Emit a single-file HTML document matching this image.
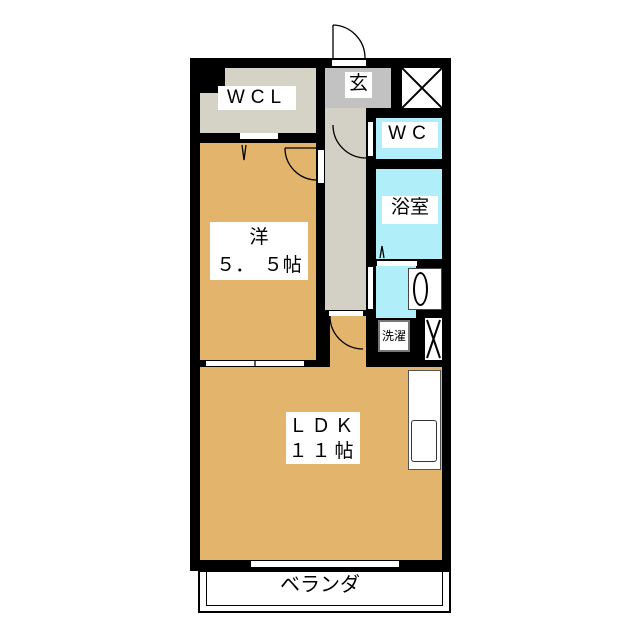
<!DOCTYPE html>
<html><head><meta charset="utf-8"><style>
body{margin:0;width:640px;height:640px;background:#fff;position:relative;overflow:hidden;font-family:"Liberation Sans","Noto Sans CJK JP",sans-serif}
div{position:absolute;box-sizing:border-box}
.lb{background:#fff;color:#000;text-align:center;font-size:19px;line-height:24px}
</style></head><body>
<div style="left:190px;top:58px;width:261px;height:513px;background:#000"></div>
<div style="left:225px;top:68px;width:91px;height:65px;background:#d5d2c6"></div>
<div style="left:200px;top:93px;width:116px;height:40px;background:#d5d2c6"></div>
<div style="left:200px;top:143px;width:116px;height:217px;background:#e2b46c"></div>
<div style="left:325px;top:68px;width:41px;height:242px;background:#d3d1c6"></div>
<div style="left:325px;top:68px;width:66px;height:40px;background:#c2c2c2"></div>
<div style="left:402px;top:68px;width:40px;height:40px;background:#fff"></div>
<svg style="position:absolute;left:402px;top:68px" width="40" height="40"><line x1="0" y1="0" x2="40" y2="40" stroke="#000" stroke-width="2"/><line x1="40" y1="0" x2="0" y2="40" stroke="#000" stroke-width="2"/></svg>
<div style="left:376px;top:118px;width:66px;height:41px;background:#b0eefa"></div>
<div style="left:376px;top:169px;width:66px;height:90px;background:#b0eefa"></div>
<div style="left:377px;top:261px;width:40px;height:5px;background:#fff"></div>
<div style="left:376px;top:266px;width:40px;height:52px;background:#b0eefa"></div>
<div style="left:408px;top:268px;width:34px;height:42px;background:#fff;border:1px solid #444"></div>
<div style="left:413px;top:272px;width:15px;height:34px;border:2px solid #000;border-radius:50%"></div>
<div style="left:378px;top:320px;width:32px;height:32px;background:#fff;border:2px solid #777;font-size:12px;line-height:28px;text-align:center">洗濯</div>
<div style="left:425px;top:318px;width:17px;height:42px;background:#fff"></div>
<svg style="position:absolute;left:425px;top:318px" width="17" height="42"><line x1="2" y1="2" x2="15" y2="40" stroke="#000" stroke-width="2"/><line x1="15" y1="2" x2="2" y2="40" stroke="#000" stroke-width="2"/></svg>
<div style="left:200px;top:367px;width:242px;height:193px;background:#e2b46c"></div>
<div style="left:330px;top:316px;width:36px;height:52px;background:#e2b46c"></div>
<div style="left:408px;top:370px;width:33px;height:100px;background:#fff;border:1px solid #555"></div>
<div style="left:411px;top:420px;width:26px;height:42px;border:1px solid #333;border-radius:3px"></div>
<div style="left:205px;top:360px;width:100px;height:7px;background:#fff;border:1px solid #000"></div>
<div style="left:240px;top:133px;width:38px;height:6px;background:#fff"></div>
<div style="left:318px;top:150px;width:6px;height:33px;background:#fff"></div>
<div style="left:332px;top:60px;width:34px;height:6px;background:#fff"></div>
<div style="left:368px;top:122px;width:5px;height:34px;background:#fff"></div>
<div style="left:368px;top:267px;width:5px;height:42px;background:#fff"></div>
<div style="left:329px;top:311px;width:34px;height:5px;background:#fff"></div>
<svg style="position:absolute;left:0;top:0" width="640" height="640" fill="none" stroke="#000" stroke-width="1.3">
<path d="M333 25 A33 33 0 0 1 365 58 M333 25 V60"/>
<path d="M333 125 A33 33 0 0 0 366 158"/>
<path d="M285 148 A32 32 0 0 0 317 180 M285 148 H317"/>
<path d="M330 316 A33 33 0 0 0 363 349"/>
<path d="M242 145 L244 160 L246 145"/>
<path d="M380 258 L382 246 L384 258"/>
<line x1="255" y1="360" x2="255" y2="367"/>
</svg>
<div style="left:250px;top:560px;width:150px;height:8px;background:#fff;border:1px solid #000"></div>
<div style="left:198px;top:570px;width:253px;height:43px;background:#fff;border:2px solid #000"></div>
<div style="left:206px;top:571px;width:237px;height:35px;border:1px solid #000;border-top:none"></div>
<div class="lb" style="left:255px;top:573px;width:130px;background:none;font-size:20px">ベランダ</div>
<div class="lb" style="left:218px;top:86px;width:78px;letter-spacing:6px">WCL</div>
<div class="lb" style="left:345px;top:72px;width:27px;height:26px">玄</div>
<div class="lb" style="left:382px;top:122px;width:56px;height:26px;letter-spacing:6px">WC</div>
<div class="lb" style="left:382px;top:196px;width:56px;height:28px">浴室</div>
<div class="lb" style="left:210px;top:222px;width:98px;height:58px;line-height:28px;padding-top:2px">洋<br>５．　５帖</div>
<div class="lb" style="left:286px;top:412px;width:74px;height:52px;line-height:25px;padding-top:2px;letter-spacing:4px">ＬＤＫ<br>１１帖</div>
</body></html>
